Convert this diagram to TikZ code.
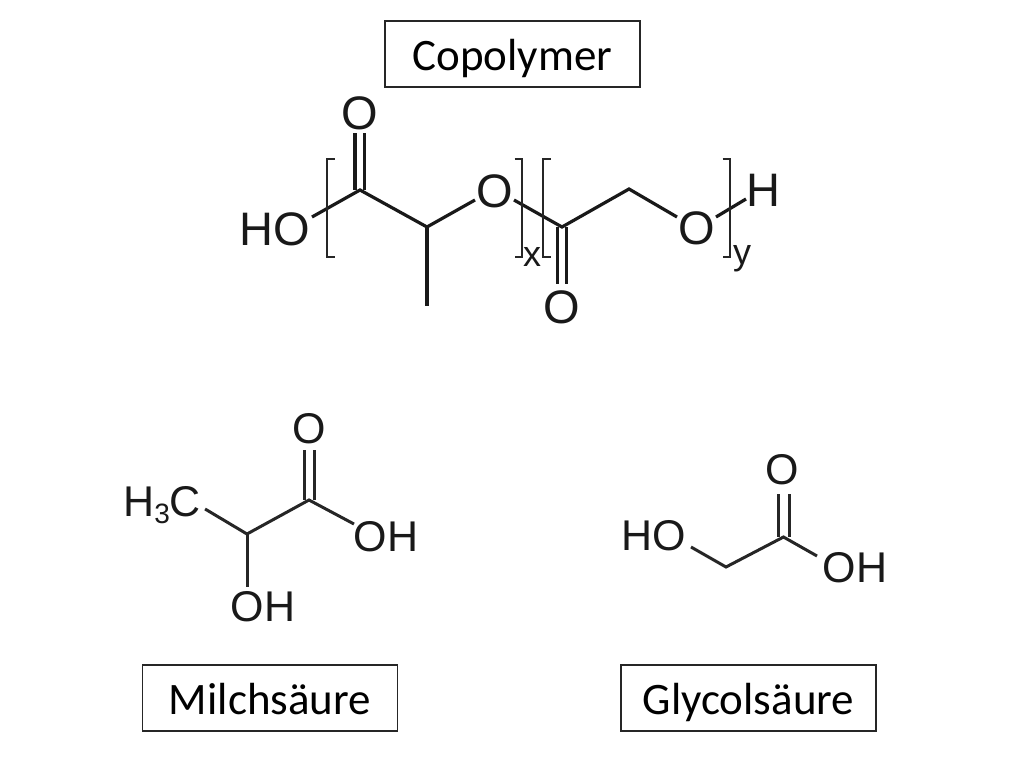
\documentclass[tikz,border=0pt]{standalone}
\usepackage{fontspec}
\setmainfont{Liberation Sans}
\newfontfamily\boxfont{Carlito}
\tikzset{
  labelbox/.style={draw=black!85,line width=1.3pt,minimum width=255pt,minimum height=66pt,inner sep=0pt,
    text height=33pt,text depth=0pt,font=\boxfont\fontsize{45}{45}\selectfont,text=black},
  atom/.style={inner sep=0pt,font=\fontsize{47}{47}\selectfont,text=black!90},
  atomsmall/.style={inner sep=0pt,font=\fontsize{43}{43}\selectfont,text=black!90},
  atomsub/.style={inner sep=0pt,font=\fontsize{36}{36}\selectfont,text=black!90},
  bond/.style={draw=black!90,line width=3.2pt,line cap=butt,line join=miter},
  thinbond/.style={draw=black!85,line width=3pt,line join=miter},
  bracketline/.style={draw=black!85,line width=2.2pt,line join=miter},
}
\begin{document}
\begin{tikzpicture}[x=1pt,y=-1pt]
\useasboundingbox (0,0) rectangle (1024,768);
% boxes
\node[labelbox] (copo) at (512.5,54) {Copolymer};
\node[labelbox] (milch) at (270,698) {Milchsäure};
\node[labelbox] (glyc) at (748.5,698) {Glycolsäure};
% copolymer atoms
\node[atom] (oa) at (360,113) {O};
\node[atom] (hoa) at (275,229) {HO};
\node[atom] (ob) at (495,191) {O};
\node[atom] (oc) at (562,307) {O};
\node[atom] (od) at (697,228) {O};
\node[atom] (ha) at (763,190) {H};
\node[atomsub,anchor=base] (subx) at (532,266) {x};
\node[atomsub,anchor=base] (suby) at (742,264) {y};
\coordinate (ca) at (360,190);
\coordinate (cb) at (427,227);
\coordinate (cm) at (427,306);
\coordinate (cc) at (562,227);
\coordinate (cd) at (629,189);
% copolymer bonds
\draw[bond] ([shift={(-5,20)}]oa.center) -- ([xshift=-5pt]ca);
\draw[bond] ([shift={(4.5,20)}]oa.center) -- ([xshift=4.5pt]ca);
\draw[bond] ([shift={(37,-12)}]hoa.center) -- (ca) -- (cb) -- ([shift={(-20,9)}]ob.center);
\draw[bond] (cb) -- (cm);
\draw[bond] ([shift={(19,9)}]ob.center) -- (cc) -- (cd) -- ([shift={(-20,-11)}]od.center);
\draw[bond] ([xshift=-4.5pt]cc) -- ([shift={(-4.5,-23)}]oc.center);
\draw[bond] ([xshift=4.5pt]cc) -- ([shift={(4.5,-23)}]oc.center);
\draw[bond] ([shift={(19,-11)}]od.center) -- ([shift={(-17,9)}]ha.center);
% brackets
\coordinate (bla) at (327,159);
\coordinate (blb) at (327,257);
\coordinate (bra) at (522,159);
\coordinate (brb) at (522,257);
\coordinate (bma) at (543,159);
\coordinate (bmb) at (543,257);
\coordinate (bea) at (730,159);
\coordinate (beb) at (730,257);
\draw[bracketline] ([xshift=7.5pt]bla) -- (bla) -- (blb) -- ([xshift=7.5pt]blb);
\draw[bracketline] ([xshift=-7.5pt]bra) -- (bra) -- (brb) -- ([xshift=-7.5pt]brb);
\draw[bracketline] ([xshift=7.5pt]bma) -- (bma) -- (bmb) -- ([xshift=7.5pt]bmb);
\draw[bracketline] ([xshift=-7.5pt]bea) -- (bea) -- (beb) -- ([xshift=-7.5pt]beb);
% Milchsaeure
\node[atomsmall] (mo) at (309,429) {O};
\node[atomsmall] (moh) at (386,537) {OH};
\node[atomsmall] (mohb) at (263,607) {OH};
\node[atomsmall,anchor=base west] (mch) at (123,516) {H\raisebox{-7pt}{\fontsize{28}{28}\selectfont 3}C};
\coordinate (mc) at (309,500);
\coordinate (md) at (247,534);
\draw[thinbond] ([shift={(-5,21)}]mo.center) -- ([xshift=-5pt]mc);
\draw[thinbond] ([shift={(5,21)}]mo.center) -- ([xshift=5pt]mc);
\draw[thinbond] ([shift={(-32,-13)}]moh.center) -- (mc) -- (md) -- ([shift={(4,-7)}]mch.base east);
\draw[thinbond] (md) -- ([shift={(-16,-20)}]mohb.center);
% Glycolsaeure
\node[atomsmall] (go) at (782,470) {O};
\node[atomsmall] (goh) at (855,568) {OH};
\node[atomsmall] (gho) at (653.5,536) {HO};
\coordinate (gc) at (783.5,537);
\coordinate (gd) at (726,567);
\draw[thinbond] ([shift={(-4,24)}]go.center) -- ([xshift=-5.5pt]gc);
\draw[thinbond] ([shift={(7,24)}]go.center) -- ([xshift=5.5pt]gc);
\draw[thinbond] ([shift={(-38,-12)}]goh.center) -- (gc) -- (gd) -- ([shift={(37.5,11)}]gho.center);
\end{tikzpicture}
\end{document}
